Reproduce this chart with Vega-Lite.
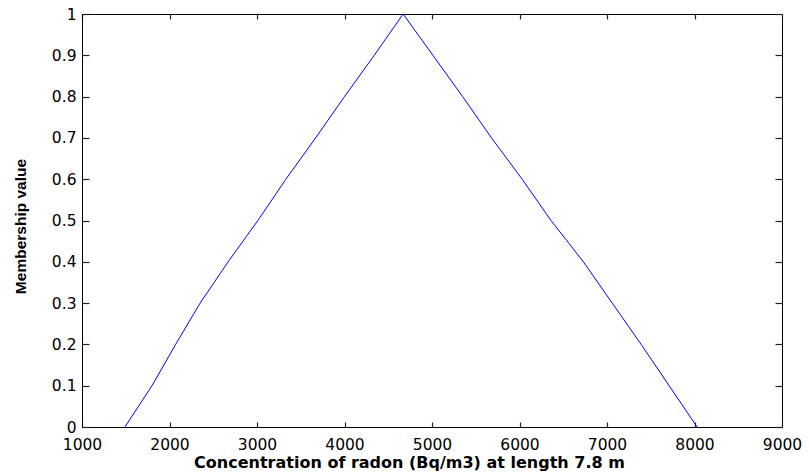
{
  "$schema": "https://vega.github.io/schema/vega-lite/v6.json",
  "width": 700,
  "height": 413,
  "autosize": {"type": "none"},
  "padding": {"left": 82, "top": 14, "right": 27, "bottom": 47},
  "background": "white",
  "config": {
    "view": {"stroke": "black", "strokeWidth": 1},
    "axis": {
      "grid": false,
      "domainColor": "black",
      "domainWidth": 1,
      "tickColor": "#222222",
      "tickWidth": 1.2,
      "labelColor": "black",
      "labelFont": "DejaVu Sans",
      "labelFontSize": 15.5,
      "titleColor": "black"
    }
  },
  "data": {
    "values": [
      {"c": 1490, "m": 0.0},
      {"c": 1800, "m": 0.1},
      {"c": 2070, "m": 0.2},
      {"c": 2350, "m": 0.3},
      {"c": 2670, "m": 0.4},
      {"c": 3010, "m": 0.5},
      {"c": 3330, "m": 0.6},
      {"c": 3670, "m": 0.7},
      {"c": 4000, "m": 0.8},
      {"c": 4340, "m": 0.9},
      {"c": 4670, "m": 1.0},
      {"c": 5010, "m": 0.9},
      {"c": 5350, "m": 0.8},
      {"c": 5680, "m": 0.7},
      {"c": 6030, "m": 0.6},
      {"c": 6360, "m": 0.5},
      {"c": 6730, "m": 0.4},
      {"c": 7060, "m": 0.3},
      {"c": 7390, "m": 0.2},
      {"c": 7710, "m": 0.1},
      {"c": 8030, "m": 0.0}
    ]
  },
  "resolve": {"axis": {"x": "independent", "y": "independent"}},
  "layer": [
    {
      "mark": {"type": "line", "color": "#0000ff", "strokeWidth": 1, "clip": true},
      "encoding": {
        "x": {
          "field": "c", "type": "quantitative",
          "scale": {"domain": [1000, 9000], "nice": false, "zero": false},
          "axis": {
            "orient": "bottom",
            "values": [1000, 2000, 3000, 4000, 5000, 6000, 7000, 8000, 9000],
            "format": "d",
            "ticks": false,
            "labelFlush": false,
            "labelOverlap": false,
            "labelPadding": 10,
            "labelBaseline": "top",
            "title": "Concentration of radon (Bq/m3) at length 7.8 m",
            "titleFont": "DejaVu Sans",
            "titleFontWeight": "bold",
            "titleFontSize": 16,
            "titleAnchor": "middle",
            "titleX": 327,
            "titleY": 40,
            "titleBaseline": "alphabetic"
          }
        },
        "y": {
          "field": "m", "type": "quantitative",
          "scale": {"domain": [0, 1], "nice": false},
          "axis": {
            "orient": "left",
            "values": [0, 0.1, 0.2, 0.3, 0.4, 0.5, 0.6, 0.7, 0.8, 0.9, 1],
            "labelExpr": "'' + datum.value",
            "ticks": false,
            "labelFlush": false,
            "labelOverlap": false,
            "labelPadding": 6,
            "title": "Membership value",
            "titleFont": "Liberation Sans",
            "titleFontWeight": "bold",
            "titleFontSize": 15.5,
            "titleAngle": 270,
            "titleX": -57,
            "titleY": 212,
            "titleAlign": "center",
            "titleBaseline": "alphabetic"
          }
        }
      }
    },
    {
      "mark": {"type": "line", "opacity": 0},
      "encoding": {
        "x": {
          "field": "c", "type": "quantitative",
          "scale": {"domain": [1000, 9000], "nice": false, "zero": false},
          "axis": {
            "orient": "top",
            "offset": -413,
            "values": [1000, 2000, 3000, 4000, 5000, 6000, 7000, 8000, 9000],
            "domain": false,
            "tickSize": 5,
            "labels": false,
            "title": null
          }
        },
        "y": {
          "field": "m", "type": "quantitative",
          "scale": {"domain": [0, 1], "nice": false},
          "axis": {
            "orient": "right",
            "offset": -700,
            "values": [0, 0.1, 0.2, 0.3, 0.4, 0.5, 0.6, 0.7, 0.8, 0.9, 1],
            "domain": false,
            "tickSize": 7,
            "labels": false,
            "title": null
          }
        }
      }
    },
    {
      "mark": {"type": "line", "opacity": 0},
      "encoding": {
        "x": {
          "field": "c", "type": "quantitative",
          "scale": {"domain": [1000, 9000], "nice": false, "zero": false},
          "axis": {
            "orient": "bottom",
            "offset": -413,
            "values": [1000, 2000, 3000, 4000, 5000, 6000, 7000, 8000, 9000],
            "domain": false,
            "tickSize": 5,
            "labels": false,
            "title": null
          }
        },
        "y": {
          "field": "m", "type": "quantitative",
          "scale": {"domain": [0, 1], "nice": false},
          "axis": {
            "orient": "left",
            "offset": -700,
            "values": [0, 0.1, 0.2, 0.3, 0.4, 0.5, 0.6, 0.7, 0.8, 0.9, 1],
            "domain": false,
            "tickSize": 7,
            "labels": false,
            "title": null
          }
        }
      }
    }
  ]
}
